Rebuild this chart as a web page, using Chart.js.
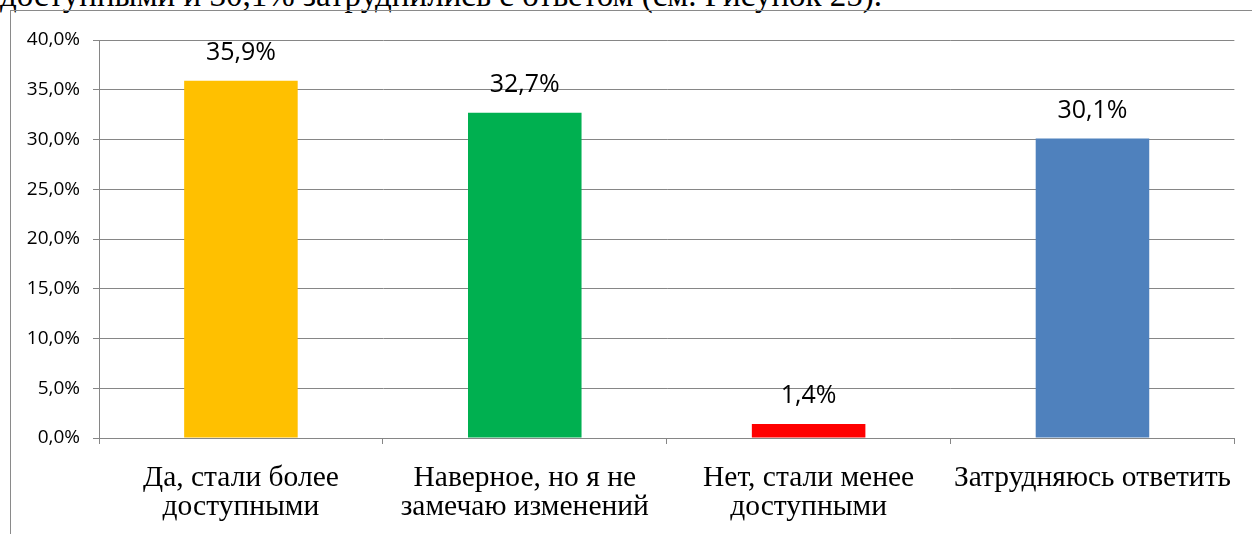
<!DOCTYPE html>
<html>
<head>
<meta charset="utf-8">
<script src="https://cdn.jsdelivr.net/npm/chart.js@4"></script>
<style>
  html, body { margin:0; padding:0; background:#fff; overflow:hidden; }
  body { width:1252px; height:534px; position:relative; }
  #topText { position:absolute; left:0; top:-21px; font-family:"Liberation Serif","Times New Roman",serif; font-size:33px; line-height:33px; white-space:nowrap; color:#000; }
  #frame { position:absolute; left:10px; top:10px; width:1300px; height:600px; border:1px solid #8a8a8a; box-sizing:border-box; }
  #c { position:absolute; left:0; top:0; }
</style>
</head>
<body>
<div id="topText">доступными и 30,1% затруднились с ответом (см. Рисунок 25).</div>
<div id="frame"></div>
<canvas id="c" width="1252" height="534"></canvas>
<script>
const categories = [
  ["Да, стали более", "доступными"],
  ["Наверное, но я не", "замечаю изменений"],
  ["Нет, стали менее", "доступными"],
  ["Затрудняюсь ответить"]
];
const values = [35.9, 32.7, 1.4, 30.1];
const barColors = ["#FFC000", "#00B050", "#FF0000", "#4F81BD"];
const yMin = 0, yMax = 40, yStep = 5;

function fmt(v) { return v.toFixed(1).replace(".", ",") + "%"; }

const dataLabels = {
  id: "dataLabels",
  afterDatasetsDraw(chart) {
    const ctx = chart.ctx;
    const meta = chart.getDatasetMeta(0);
    ctx.save();
    ctx.font = '25px "Open Sans"';
    ctx.fillStyle = "#000";
    ctx.textAlign = "center";
    ctx.textBaseline = "alphabetic";
    meta.data.forEach((bar, i) => {
      ctx.fillText(fmt(values[i]), bar.x, bar.y - 21);
    });
    ctx.restore();
  }
};

new Chart(document.getElementById("c"), {
  type: "bar",
  data: {
    labels: categories,
    datasets: [{
      data: values,
      backgroundColor: barColors,
      borderWidth: 0,
      barPercentage: 0.4,
      categoryPercentage: 1.0
    }]
  },
  options: {
    responsive: false,
    animation: false,
    devicePixelRatio: 1,
    layout: { padding: { top: 40, right: 16, left: 0, bottom: 0 } },
    plugins: { legend: { display: false }, tooltip: { enabled: false } },
    scales: {
      x: {
        grid: { display: true, drawOnChartArea: false, drawTicks: true, tickLength: 6, color: "#868686", offset: true },
        border: { display: true, color: "#868686" },
        ticks: {
          color: "#000",
          font: { family: '"Liberation Serif"', size: 29.5, lineHeight: 1.0 },
          padding: 19,
          maxRotation: 0,
          autoSkip: false
        },
        afterFit(s) { s.height = 96; }
      },
      y: {
        min: yMin, max: yMax,
        grid: { color: "#868686", tickLength: 6 },
        border: { display: true, color: "#868686" },
        ticks: {
          stepSize: yStep,
          color: "#000",
          font: { family: '"Open Sans"', size: 19 },
          padding: 13,
          callback: (v) => fmt(v)
        },
        afterFit(s) { s.width = 99; }
      }
    }
  },
  plugins: [dataLabels]
});
</script>
</body>
</html>
